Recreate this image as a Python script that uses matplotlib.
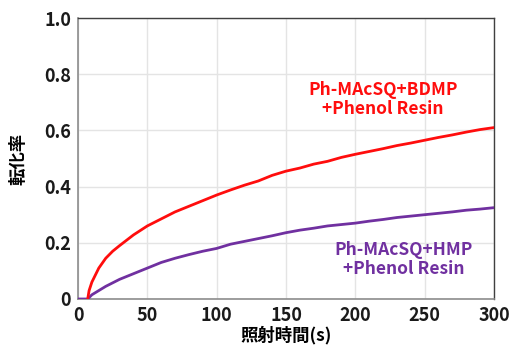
import matplotlib
matplotlib.use("Agg")
import matplotlib.pyplot as plt

plt.rcParams['font.family'] = ['Noto Sans CJK JP', 'DejaVu Sans']

t_red = [7, 8, 10, 15, 20, 25, 30, 40, 50, 60, 70, 80, 90, 100, 110, 120, 130, 140, 150,
         160, 170, 180, 190, 200, 210, 220, 230, 240, 250, 260, 270, 280, 290, 300]
y_red = [0.0, 0.03, 0.06, 0.11, 0.145, 0.17, 0.19, 0.228, 0.26, 0.285, 0.31, 0.33, 0.35,
         0.37, 0.388, 0.405, 0.42, 0.44, 0.455, 0.466, 0.48, 0.49, 0.504, 0.515, 0.525,
         0.535, 0.546, 0.555, 0.565, 0.575, 0.584, 0.594, 0.603, 0.61]

t_pur = [0, 5, 7, 10, 15, 20, 30, 40, 50, 60, 70, 80, 90, 100, 110, 120, 130, 140, 150,
         160, 170, 180, 190, 200, 210, 220, 230, 240, 250, 260, 270, 280, 290, 300]
y_pur = [0.0, 0.0, 0.0, 0.015, 0.03, 0.045, 0.07, 0.09, 0.11, 0.13, 0.145, 0.158, 0.17,
         0.18, 0.195, 0.205, 0.215, 0.225, 0.236, 0.245, 0.252, 0.26, 0.265, 0.27, 0.277,
         0.283, 0.29, 0.295, 0.30, 0.305, 0.31, 0.316, 0.32, 0.325]

xticks = [0, 50, 100, 150, 200, 250, 300]
yticks = [0, 0.2, 0.4, 0.6, 0.8, 1.0]
ytick_labels = ['0', '0.2', '0.4', '0.6', '0.8', '1.0']

label_red = "Ph-MAcSQ+BDMP\n+Phenol Resin"
label_pur = "Ph-MAcSQ+HMP\n+Phenol Resin"

RED = '#ff0d0d'
PUR = '#7030a0'

fig = plt.figure(figsize=(5.10, 3.49), dpi=100)
ax = fig.add_axes([78/510, 1 - 299/349, (494-78)/510, (299-18)/349])

ax.plot(t_pur, y_pur, color=PUR, lw=2.0, zorder=3)
ax.plot(t_red, y_red, color=RED, lw=2.0, zorder=4)

ax.set_xlim(0, 300)
ax.set_ylim(0, 1.0)
ax.set_xticks(xticks)
ax.set_xticklabels([str(v) for v in xticks])
ax.set_yticks(yticks)
ax.set_yticklabels(ytick_labels)
ax.grid(True, color='#e4e4e4', lw=1.0)
ax.set_axisbelow(True)
for s in ['left', 'bottom']:
    ax.spines[s].set_color('#8c8c8c')
    ax.spines[s].set_linewidth(1.2)
for s in ['right', 'top']:
    ax.spines[s].set_color('#404040')
    ax.spines[s].set_linewidth(1.0)
ax.tick_params(length=0, labelsize=13, pad=5, labelcolor='#1a1a1a')
for lab in ax.get_xticklabels() + ax.get_yticklabels():
    lab.set_fontweight('bold')

ax.set_ylabel('転化率', fontsize=12.5, fontweight='bold', labelpad=12)
ax.set_xlabel('照射時間(s)', fontsize=12.5, fontweight='bold', labelpad=1)

ax.text(220, 0.71, label_red, color=RED, fontsize=12.5, fontweight='bold',
        ha='center', va='center', linespacing=1.1)
ax.text(235, 0.14, label_pur, color=PUR, fontsize=12.5, fontweight='bold',
        ha='center', va='center', linespacing=1.1)

fig.savefig('out.png', dpi=100)
